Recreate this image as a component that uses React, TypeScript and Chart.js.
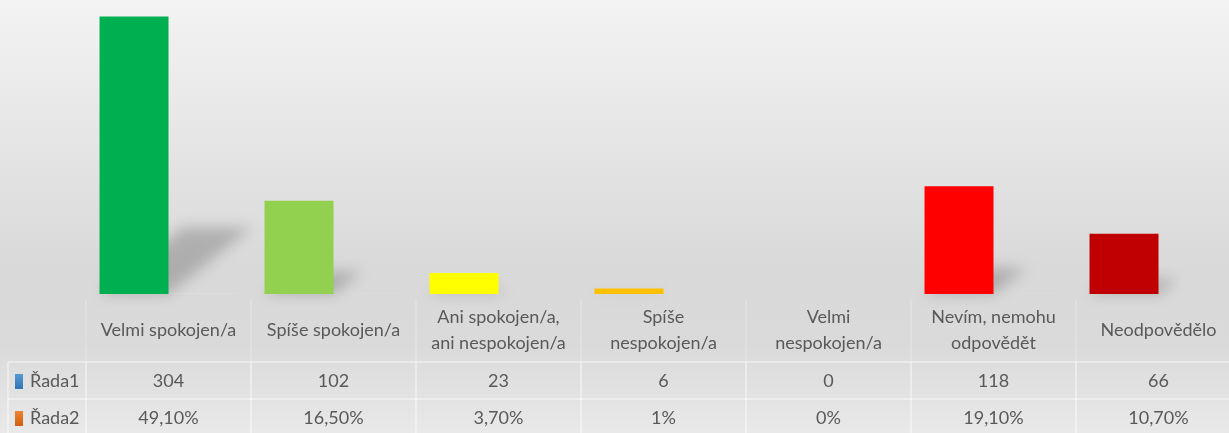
import React, { useEffect, useRef } from "react";
import { Chart, registerables } from "chart.js";

Chart.register(...registerables);

const categories: string[][] = [
  ["Velmi spokojen/a"],
  ["Spíše spokojen/a"],
  ["Ani spokojen/a,", "ani nespokojen/a"],
  ["Spíše", "nespokojen/a"],
  ["Velmi", "nespokojen/a"],
  ["Nevím, nemohu", "odpovědět"],
  ["Neodpovědělo"],
];
const series1: number[] = [304, 102, 23, 6, 0, 118, 66];
const series1Labels: string[] = ["304", "102", "23", "6", "0", "118", "66"];
const series2: number[] = [0.491, 0.165, 0.037, 0.01, 0, 0.191, 0.107];
const series2Labels: string[] = ["49,10%", "16,50%", "3,70%", "1%", "0%", "19,10%", "10,70%"];
const seriesNames: string[] = ["Řada1", "Řada2"];
const barColors: string[] = ["#00B050", "#92D050", "#FFFF00", "#FFC000", "#7F7F7F", "#FF0000", "#C00000"];

const FONT = "Lato, 'Noto Sans', sans-serif";
const TEXT = "#595959";

const bgPlugin = {
  id: "bg",
  beforeDraw(chart: any) {
    const { ctx, width, height } = chart;
    const g = ctx.createLinearGradient(0, 0, 0, height);
    g.addColorStop(0, "#f3f3f3");
    g.addColorStop(0.62, "#d9d9d9");
    g.addColorStop(0.8, "#dadada");
    g.addColorStop(1, "#e9e9e9");
    ctx.save();
    ctx.fillStyle = g;
    ctx.fillRect(0, 0, width, height);
    ctx.restore();
  },
};

const shadowPlugin = {
  id: "barShadow",
  beforeDatasetsDraw(chart: any) {
    const { ctx } = chart;
    const meta = chart.getDatasetMeta(0);
    ctx.save();
    ctx.filter = "blur(7px)";
    ctx.fillStyle = "rgba(0,0,0,0.2)";
    meta.data.forEach((bar: any) => {
      const p = bar.getProps(["x", "y", "base", "width"], true);
      const h = p.base - p.y;
      if (h < 2) return;
      const l = p.x - p.width / 2;
      const r = p.x + p.width / 2;
      const dx = h * 0.3;
      const dy = h * 0.24;
      ctx.beginPath();
      ctx.moveTo(l, p.base);
      ctx.lineTo(r, p.base);
      ctx.lineTo(r + dx, p.base - dy);
      ctx.lineTo(l + dx, p.base - dy);
      ctx.closePath();
      ctx.fill();
    });
    ctx.restore();
  },
};

const tablePlugin = {
  id: "dataTable",
  afterDraw(chart: any) {
    const { ctx } = chart;
    const xs = chart.scales.x;
    const n = categories.length;
    const cw = xs.width / n;
    const top = 300;
    const row1 = 362;
    const row2 = 399;
    const bottom = 433;
    const left = 8;
    ctx.save();
    ctx.lineWidth = 2;
    for (let i = 0; i <= n; i++) {
      const x = xs.getPixelForValue(0) - cw / 2 + i * cw;
      ctx.strokeStyle = "rgba(255,255,255,0.18)";
      ctx.beginPath();
      ctx.moveTo(x, top);
      ctx.lineTo(x, row1);
      ctx.stroke();
      ctx.strokeStyle = "rgba(255,255,255,0.4)";
      ctx.beginPath();
      ctx.moveTo(x, row1);
      ctx.lineTo(x, bottom);
      ctx.stroke();
    }
    ctx.strokeStyle = "rgba(255,255,255,0.4)";
    [row1, row2].forEach((y) => {
      ctx.beginPath();
      ctx.moveTo(left, y);
      ctx.lineTo(xs.right, y);
      ctx.stroke();
    });
    ctx.beginPath();
    ctx.moveTo(left, row1);
    ctx.lineTo(left, bottom);
    ctx.stroke();

    ctx.fillStyle = TEXT;
    ctx.textAlign = "center";
    ctx.textBaseline = "middle";
    ctx.font = `18px ${FONT}`;
    categories.forEach((lines, i) => {
      const x = xs.getPixelForValue(i);
      const lh = 26;
      const y0 = 330 - ((lines.length - 1) * lh) / 2;
      lines.forEach((t, k) => ctx.fillText(t, x, y0 + k * lh));
      ctx.fillText(series1Labels[i], x, 381);
      ctx.fillText(series2Labels[i], x, 418);
    });

    const keys = [
      ["#5b9bd5", "#2e75b6"],
      ["#f08536", "#d0600f"],
    ];
    [381, 418].forEach((y, r) => {
      const g = ctx.createLinearGradient(0, y - 8, 0, y + 8);
      g.addColorStop(0, keys[r][0]);
      g.addColorStop(1, keys[r][1]);
      ctx.fillStyle = g;
      ctx.fillRect(15, y - 7, 8, 15);
      ctx.fillStyle = TEXT;
      ctx.textAlign = "left";
      ctx.fillText(seriesNames[r], 30, y);
    });
    ctx.restore();
  },
};

export default function App() {
  const ref = useRef<HTMLCanvasElement | null>(null);
  useEffect(() => {
    document.body.style.margin = "0";
    const canvas = ref.current!;
    const chart = new Chart(canvas, {
      type: "bar",
      data: {
        labels: categories.map((c) => c.join(" ")),
        datasets: [
          {
            label: seriesNames[0],
            data: series1,
            backgroundColor: barColors,
            barPercentage: 1,
            categoryPercentage: 0.836,
          },
          {
            label: seriesNames[1],
            data: series2,
            backgroundColor: "rgba(255,255,255,0.25)",
            barPercentage: 1,
            categoryPercentage: 0.836,
          },
        ],
      },
      options: {
        responsive: false,
        animation: false,
        layout: { padding: { left: 86, right: 9, top: 0, bottom: 139 } },
        plugins: { legend: { display: false }, tooltip: { enabled: false } },
        scales: {
          x: { display: false },
          y: { display: false, min: 0, max: 322 },
        },
      },
      plugins: [bgPlugin, shadowPlugin, tablePlugin],
    });
    return () => chart.destroy();
  }, []);
  return (
    <div style={{ width: 1229, height: 433, overflow: "hidden", position: "relative" }}>
      <canvas ref={ref} width={1250} height={433} style={{ display: "block" }} />
    </div>
  );
}
